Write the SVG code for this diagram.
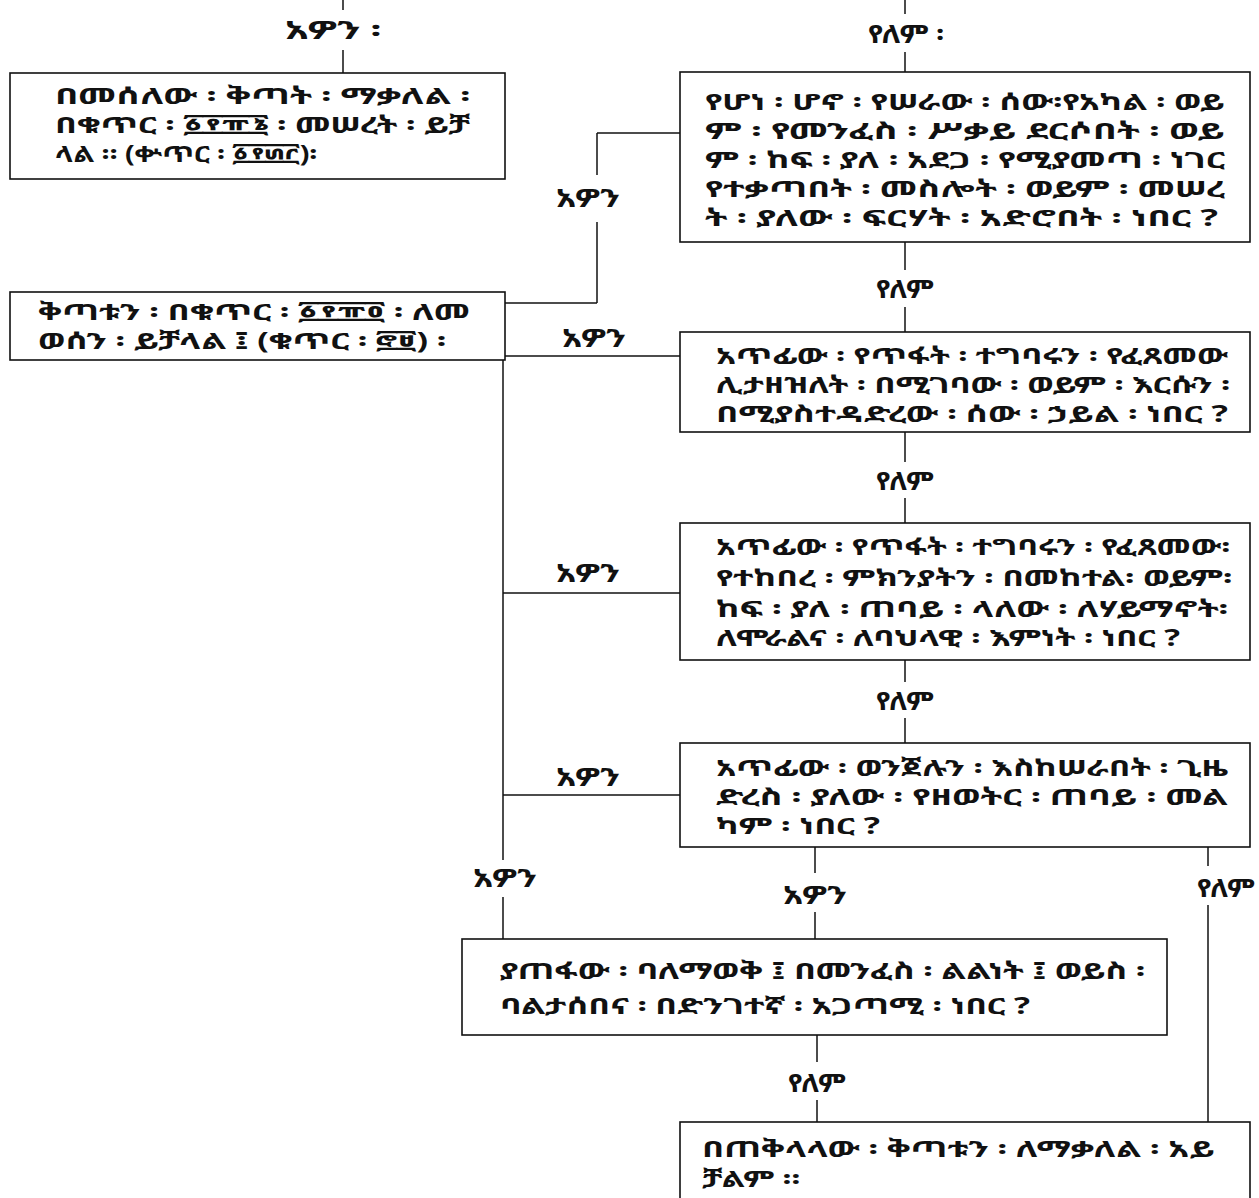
<svg xmlns="http://www.w3.org/2000/svg" width="1259" height="1198" viewBox="0 0 1259 1198">
<style>
text{font-family:"Noto Sans Ethiopic","Noto Serif Ethiopic","Abyssinica SIL","FreeSerif","Noto Sans","DejaVu Sans",sans-serif;font-weight:bold;font-size:23px;fill:#111}
.lbl{text-anchor:middle;font-size:25px}
.box{fill:#fff;stroke:#111;stroke-width:1.6}
.c line{stroke:#111;stroke-width:1.5}
</style>
<rect width="1259" height="1198" fill="#fff"/>
<g class="c" id="connectors">
<line x1="343" y1="0" x2="343" y2="10"/>
<line x1="343" y1="50" x2="343" y2="73" stroke-width="1"/>
<line x1="905" y1="0" x2="905" y2="14"/>
<line x1="905" y1="52" x2="905" y2="72" stroke-width="1"/>
<line x1="680" y1="133" x2="597" y2="133"/>
<line x1="597" y1="133" x2="597" y2="175"/>
<line x1="597" y1="222" x2="597" y2="303"/>
<line x1="597" y1="303" x2="505" y2="303"/>
<line x1="905" y1="242" x2="905" y2="270"/>
<line x1="905" y1="307" x2="905" y2="332"/>
<line x1="503" y1="360" x2="503" y2="860"/>
<line x1="503" y1="897" x2="503" y2="939"/>
<line x1="503" y1="356" x2="680" y2="356"/>
<line x1="503" y1="593" x2="680" y2="593"/>
<line x1="503" y1="795" x2="680" y2="795"/>
<line x1="905" y1="432" x2="905" y2="462"/>
<line x1="905" y1="498" x2="905" y2="523"/>
<line x1="905" y1="660" x2="905" y2="682"/>
<line x1="905" y1="718" x2="905" y2="743"/>
<line x1="815" y1="847" x2="815" y2="873"/>
<line x1="815" y1="912" x2="815" y2="939"/>
<line x1="1208" y1="847" x2="1208" y2="866"/>
<line x1="1208" y1="905" x2="1208" y2="1122"/>
<line x1="817" y1="1035" x2="817" y2="1062"/>
<line x1="817" y1="1100" x2="817" y2="1122"/>
</g>
<g id="labels">
<text class="lbl" x="333" y="39" textLength="96" lengthAdjust="spacingAndGlyphs">አዎን ፡</text>
<text class="lbl" x="906" y="43" textLength="76" lengthAdjust="spacingAndGlyphs">የለም ፡</text>
<text class="lbl" x="588" y="207" textLength="64" lengthAdjust="spacingAndGlyphs">አዎን</text>
<text class="lbl" x="905" y="298" textLength="58" lengthAdjust="spacingAndGlyphs">የለም</text>
<text class="lbl" x="594" y="347" textLength="64" lengthAdjust="spacingAndGlyphs">አዎን</text>
<text class="lbl" x="905" y="490" textLength="58" lengthAdjust="spacingAndGlyphs">የለም</text>
<text class="lbl" x="588" y="582" textLength="64" lengthAdjust="spacingAndGlyphs">አዎን</text>
<text class="lbl" x="905" y="710" textLength="58" lengthAdjust="spacingAndGlyphs">የለም</text>
<text class="lbl" x="588" y="786" textLength="64" lengthAdjust="spacingAndGlyphs">አዎን</text>
<text class="lbl" x="505" y="887" textLength="64" lengthAdjust="spacingAndGlyphs">አዎን</text>
<text class="lbl" x="815" y="904" textLength="64" lengthAdjust="spacingAndGlyphs">አዎን</text>
<text class="lbl" x="1226" y="897" textLength="58" lengthAdjust="spacingAndGlyphs">የለም</text>
<text class="lbl" x="817" y="1092" textLength="58" lengthAdjust="spacingAndGlyphs">የለም</text>
</g>
<g id="n1">
<rect class="box" x="10" y="73" width="495" height="106"/>
<text x="55" y="104" textLength="415" lengthAdjust="spacingAndGlyphs">በመሰለው ፡ ቅጣት ፡ ማቃለል ፡</text>
<text x="55" y="133" textLength="415" lengthAdjust="spacingAndGlyphs">በቁጥር ፡ ፩፻፹፮ ፡ መሠረት ፡ ይቻ</text>
<text x="55" y="162" textLength="262" lengthAdjust="spacingAndGlyphs">ላል ። (ቍጥር ፡ ፩፻፴፫)፡</text>
</g>
<g id="n2">
<rect class="box" x="10" y="292" width="495" height="68"/>
<text x="38" y="320" textLength="432" lengthAdjust="spacingAndGlyphs">ቅጣቱን ፡ በቁጥር ፡ ፩፻፹፬ ፡ ለመ</text>
<text x="38" y="349" textLength="408" lengthAdjust="spacingAndGlyphs">ወሰን ፡ ይቻላል ፤ (ቁጥር ፡ ፸፱) ፡</text>
</g>
<g id="n3">
<rect class="box" x="680" y="72" width="570" height="170"/>
<text x="705" y="110" textLength="520" lengthAdjust="spacingAndGlyphs">የሆነ ፡ ሆኖ ፡ የሠራው ፡ ሰው፡የአካል ፡ ወይ</text>
<text x="705" y="139" textLength="520" lengthAdjust="spacingAndGlyphs">ም ፡ የመንፈስ ፡ ሥቃይ ደርሶበት ፡ ወይ</text>
<text x="705" y="168" textLength="520" lengthAdjust="spacingAndGlyphs">ም ፡ ከፍ ፡ ያለ ፡ አደጋ ፡ የሚያመጣ ፡ ነገር</text>
<text x="705" y="197" textLength="520" lengthAdjust="spacingAndGlyphs">የተቃጣበት ፡ መስሎት ፡ ወይም ፡ መሠረ</text>
<text x="705" y="226" textLength="513" lengthAdjust="spacingAndGlyphs">ት ፡ ያለው ፡ ፍርሃት ፡ አድሮበት ፡ ነበር ?</text>
</g>
<g id="n4">
<rect class="box" x="680" y="332" width="570" height="100"/>
<text x="716" y="364" textLength="512" lengthAdjust="spacingAndGlyphs">አጥፊው ፡ የጥፋት ፡ ተግባሩን ፡ የፈጸመው</text>
<text x="716" y="393" textLength="514" lengthAdjust="spacingAndGlyphs">ሊታዘዝለት ፡ በሚገባው ፡ ወይም ፡ እርሱን ፡</text>
<text x="716" y="422" textLength="512" lengthAdjust="spacingAndGlyphs">በሚያስተዳድረው ፡ ሰው ፡ ኃይል ፡ ነበር ?</text>
</g>
<g id="n5">
<rect class="box" x="680" y="523" width="570" height="137"/>
<text x="716" y="555" textLength="514" lengthAdjust="spacingAndGlyphs">አጥፊው ፡ የጥፋት ፡ ተግባሩን ፡ የፈጸመው፡</text>
<text x="716" y="586" textLength="516" lengthAdjust="spacingAndGlyphs">የተከበረ ፡ ምክንያትን ፡ በመከተል፡ ወይም፡</text>
<text x="716" y="617" textLength="512" lengthAdjust="spacingAndGlyphs">ከፍ ፡ ያለ ፡ ጠባይ ፡ ላለው ፡ ለሃይማኖት፡</text>
<text x="716" y="646" textLength="464" lengthAdjust="spacingAndGlyphs">ለሞራልና ፡ ለባህላዊ ፡ እምነት ፡ ነበር ?</text>
</g>
<g id="n6">
<rect class="box" x="680" y="743" width="570" height="104"/>
<text x="716" y="776" textLength="512" lengthAdjust="spacingAndGlyphs">አጥፊው ፡ ወንጀሉን ፡ እስከሠራበት ፡ ጊዜ</text>
<text x="716" y="805" textLength="512" lengthAdjust="spacingAndGlyphs">ድረስ ፡ ያለው ፡ የዘወትር ፡ ጠባይ ፡ መል</text>
<text x="716" y="834" textLength="164" lengthAdjust="spacingAndGlyphs">ካም ፡ ነበር ?</text>
</g>
<g id="n7">
<rect class="box" x="462" y="939" width="705" height="96"/>
<text x="500" y="979" textLength="645" lengthAdjust="spacingAndGlyphs">ያጠፋው ፡ ባለማወቅ ፤ በመንፈስ ፡ ልልነት ፤ ወይስ ፡</text>
<text x="500" y="1014" textLength="530" lengthAdjust="spacingAndGlyphs">ባልታሰበና ፡ በድንገተኛ ፡ አጋጣሚ ፡ ነበር ?</text>
</g>
<g id="n8">
<rect class="box" x="680" y="1122" width="570" height="90"/>
<text x="702" y="1157" textLength="513" lengthAdjust="spacingAndGlyphs">በጠቅላላው ፡ ቅጣቱን ፡ ለማቃለል ፡ አይ</text>
<text x="702" y="1187" textLength="98" lengthAdjust="spacingAndGlyphs">ቻልም ።</text>
</g>
</svg>
